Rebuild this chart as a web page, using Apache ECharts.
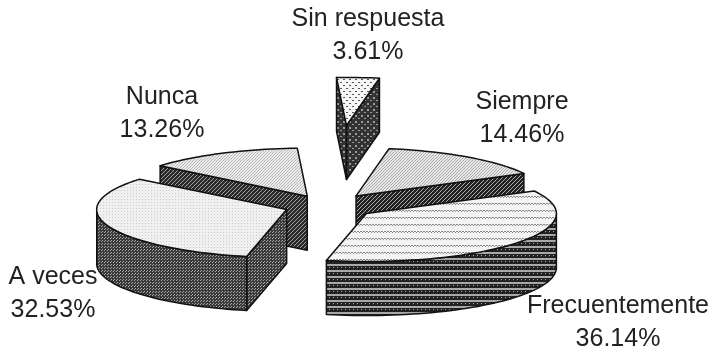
<!DOCTYPE html>
<html>
<head>
<meta charset="UTF-8">
<title>Pie</title>
<script src="https://cdn.jsdelivr.net/npm/echarts@6/dist/echarts.min.js"></script>
<style>
  html, body { margin: 0; padding: 0; background: #fff; }
  /* the source is a soft scan */
  #chart { width: 716px; height: 353px; filter: blur(0.5px); }
</style>
</head>
<body>
<div id="chart"></div>
<script>
// data, in pie order (clockwise)
var categories = ['Sin respuesta', 'Siempre', 'Frecuentemente', 'A veces', 'Nunca'];
var percents = [3.61, 14.46, 36.14, 32.53, 13.26];

// pie geometry
var CX = 327, CY = 206, RX = 190, RY = 48, DEPTH = 54, START = -3;
var explode = [1.68, 0.26, 0.26, 0.225, 0.23];
var drawOrder = [0, 4, 1, 3, 2];
var labelPos = [[368, 36], [522, 119], [618, 323], [53, 294], [162, 114]];

// small repeat tile, marks are pixel cells
function tile(w, h, bg, fg, cells) {
    var c = document.createElement('canvas');
    c.width = w; c.height = h;
    var g = c.getContext('2d');
    g.fillStyle = bg;
    g.fillRect(0, 0, w, h);
    g.fillStyle = fg;
    cells.forEach(function (p) { g.fillRect(p[0], p[1], p[2] || 1, p[3] || 1); });
    return { image: c, repeat: 'repeat' };
}
function diag(n, bg, fg) {
    var cells = [];
    for (var i = 0; i < n; i++) cells.push([n - 1 - i, i]);
    return tile(n, n, bg, fg, cells);
}

var tops = [
    tile(6, 6, '#f6f6f6', '#555', [[1, 1, 2, 1], [4, 4, 2, 1]]),
    diag(3, '#e8e8e8', '#aaa'),
    tile(6, 7, '#f3f3f3', '#888', [[0, 0, 2, 1], [3, 0, 2, 1], [2, 1], [5, 1]]),
    tile(3, 3, '#f0f0f0', '#ccc', [[1, 1]]),
    diag(3, '#ebebeb', '#b8b8b8')
];
var walls = [
    tile(6, 6, '#333', '#999', [[1, 1, 2, 2], [4, 4, 2, 1]]),
    diag(4, '#222', '#aaa'),
    tile(4, 6, '#222', '#a8a8a8', [[0, 0, 4, 2], [1, 3, 1, 1]]),
    tile(3, 3, '#3a3a3a', '#a8a8a8', [[0, 0], [2, 1]]),
    diag(4, '#2a2a2a', '#a0a0a0')
];

// running angle of every slice from its value
var angles = [];
var total = percents.reduce(function (a, b) { return a + b; }, 0);
var run = START;
percents.forEach(function (v) {
    var sweep = v / total * 360;
    angles.push([run, run + sweep]);
    run += sweep;
});

function onEllipse(cx, cy, deg) {
    var a = deg * Math.PI / 180;
    return [cx + RX * Math.sin(a), cy - RY * Math.cos(a)];
}
function down(p) { return [p[0], p[1] + DEPTH]; }
function poly(points, fill) {
    return {
        type: 'polygon',
        shape: { points: points },
        style: { fill: fill, stroke: '#111', lineWidth: 1.5, lineJoin: 'round' }
    };
}

function renderSlice(params, api) {
    var i = api.value(0);
    var a0 = angles[i][0], a1 = angles[i][1];
    var m = onEllipse(0, 0, (a0 + a1) / 2);
    var cx = CX + m[0] * explode[i], cy = CY + m[1] * explode[i];
    var apex = [cx, cy];
    var arc = [];
    for (var t = a0; t < a1; t += 2) arc.push(onEllipse(cx, cy, t));
    arc.push(onEllipse(cx, cy, a1));
    var first = arc[0], last = arc[arc.length - 1];
    var children = [];

    // walls that face the viewer only
    if (last[0] > apex[0]) {
        children.push(poly([last, apex, down(apex), down(last)], walls[i]));
    }
    if (first[0] < apex[0]) {
        children.push(poly([apex, first, down(first), down(apex)], walls[i]));
    }
    var front = arc.filter(function (p, k) {
        var t = Math.min(a0 + k * 2, a1);
        return t >= 90 && t <= 270;
    });
    if (front.length > 1) {
        children.push(poly(front.concat(front.map(down).reverse()), walls[i]));
    }
    children.push(poly([apex].concat(arc), tops[i]));
    return { type: 'group', children: children };
}

var chart = echarts.init(document.getElementById('chart'), null, { renderer: 'canvas' });
chart.setOption({
    animation: false,
    backgroundColor: '#fff',
    graphic: categories.map(function (name, i) {
        return {
            type: 'text',
            x: labelPos[i][0],
            y: labelPos[i][1],
            style: {
                text: name + '\n' + percents[i].toFixed(2) + '%',
                font: '25px "Liberation Sans", Arial, sans-serif',
                lineHeight: 33,
                fill: '#222',
                align: 'center',
                verticalAlign: 'middle'
            }
        };
    }),
    series: [{
        type: 'custom',
        coordinateSystem: 'none',
        silent: true,
        renderItem: renderSlice,
        data: drawOrder.map(function (i) { return [i]; })
    }]
});
</script>
</body>
</html>
